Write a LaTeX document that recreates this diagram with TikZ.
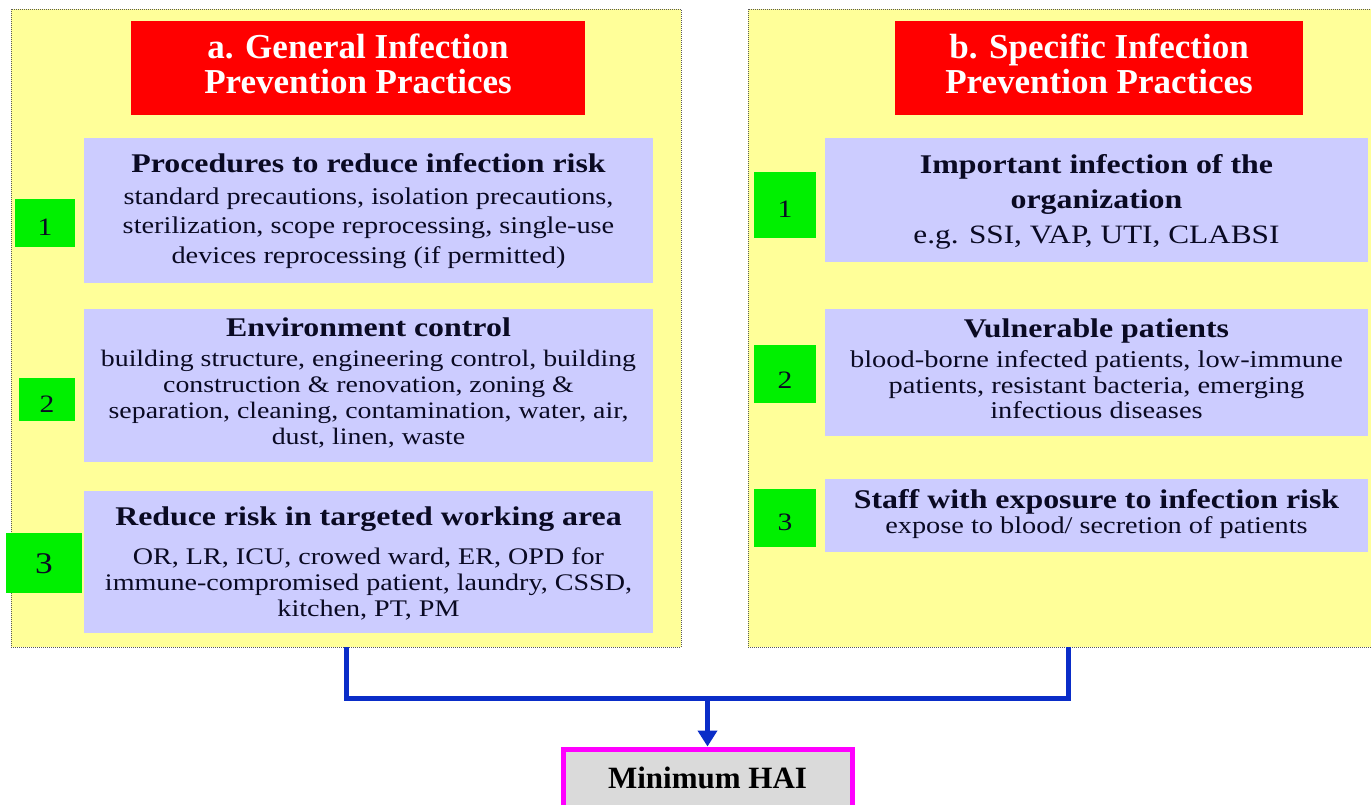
\documentclass[tikz,border=0pt]{standalone}
\usepackage{fontspec}
\setmainfont{Liberation Serif}
\newfontfamily\widefont[FakeStretch=1.18]{Liberation Serif}
\usetikzlibrary{fit,arrows.meta}

\definecolor{panelyellow}{HTML}{FFFF99}
\definecolor{boxblue}{HTML}{CCCCFF}
\definecolor{numgreen}{HTML}{00F000}
\definecolor{titlered}{HTML}{FF0000}
\definecolor{haigray}{HTML}{DADADA}
\definecolor{haiborder}{HTML}{FF00FF}
\definecolor{linkblue}{HTML}{0A2DC8}
\definecolor{inkdark}{HTML}{0A0A23}

\tikzset{
  panel/.style={fill=panelyellow, draw=gray!70!black, line width=0.8pt,
    dash pattern=on 1pt off 1pt, inner sep=0pt},
  redbox/.style={fill=titlered, inner sep=0pt},
  bluebox/.style={fill=boxblue, inner sep=0pt},
  numbox/.style={fill=numgreen, inner sep=0pt},
  haibox/.style={fill=haigray, draw=haiborder, line width=5pt, inner sep=0pt},
  % text lines, each placed on its own baseline
  redtext/.style={anchor=base, inner sep=0pt, text=white,
    font=\fontsize{35}{35}\selectfont\bfseries},
  headtext/.style={anchor=base, inner sep=0pt, text=inkdark,
    font=\widefont\fontsize{27}{27}\selectfont\bfseries},
  bodytext/.style={anchor=base, inner sep=0pt, text=inkdark,
    font=\widefont\fontsize{#1}{#1}\selectfont},
  bodytext/.default=24,
  numtext/.style={anchor=base, inner sep=0pt, text=inkdark,
    font=\widefont\fontsize{#1}{#1}\selectfont},
  numtext/.default=25,
  haitext/.style={anchor=base, inner sep=0pt, text=black,
    font=\fontsize{31}{31}\selectfont\bfseries},
  conn/.style={draw=linkblue, line width=5pt},
}

\begin{document}
\begin{tikzpicture}[x=1pt, y=-1pt]
  \useasboundingbox (0,0) rectangle (1371,804);
  \clip (0,0) rectangle (1371,804);
  \fill[white] (0,0) rectangle (1371,804);

  % two practice panels
  \node[panel, fit={(11,9) (681,647)}] (pa) {};
  \node[panel, fit={(748,9) (1388,647)}] (pb) {};

  % panel headings
  \node[redbox, fit={(131,21) (585,115)}] (ta) {};
  \node[redtext] (ta1) at (358,58) {a. General Infection};
  \node[redtext] (ta2) at (358,93) {Prevention Practices};
  \node[redbox, fit={(895,21) (1303,115)}] (tb) {};
  \node[redtext] (tb1) at (1099,58) {b. Specific Infection};
  \node[redtext] (tb2) at (1099,93) {Prevention Practices};

  % general practices
  \node[bluebox, fit={(84,138) (653,283)}] (a1) {};
  \node[headtext] (a1h) at (368.5,172) {Procedures to reduce infection risk};
  \node[bodytext=24] (a1b1) at (368.5,204) {standard precautions, isolation precautions,};
  \node[bodytext=24] (a1b2) at (368.5,233.5) {sterilization, scope reprocessing, single-use};
  \node[bodytext=24] (a1b3) at (368.5,263) {devices reprocessing (if permitted)};

  \node[bluebox, fit={(84,309) (653,462)}] (a2) {};
  \node[headtext] (a2h) at (368.5,336) {Environment control};
  \node[bodytext=23.6] (a2b1) at (368.5,366) {building structure, engineering control, building};
  \node[bodytext=23.6] (a2b2) at (368.5,392) {construction \& renovation, zoning \&};
  \node[bodytext=23.6] (a2b3) at (368.5,418) {separation, cleaning, contamination, water, air,};
  \node[bodytext=23.6] (a2b4) at (368.5,444) {dust, linen, waste};

  \node[bluebox, fit={(84,491) (653,633)}] (a3) {};
  \node[headtext] (a3h) at (368.5,525) {Reduce risk in targeted working area};
  \node[bodytext=23.8] (a3b1) at (368.5,564) {OR, LR, ICU, crowed ward, ER, OPD for};
  \node[bodytext=23.8] (a3b2) at (368.5,590) {immune-compromised patient, laundry, CSSD,};
  \node[bodytext=23.8] (a3b3) at (368.5,616) {kitchen, PT, PM};

  \node[numbox, fit={(15,199) (75,247)}] (na1) {};
  \node[numtext] (na1t) at (na1.center |- 0,235) {1};
  \node[numbox, fit={(19,378) (75,421)}] (na2) {};
  \node[numtext] (na2t) at (na2.center |- 0,412) {2};
  \node[numbox, fit={(6,533) (82,593)}] (na3) {};
  \node[numtext=30] (na3t) at (na3.center |- 0,573) {3};

  % specific practices
  \node[bluebox, fit={(825,138) (1368,262)}] (b1) {};
  \node[headtext] (b1h1) at (1096.5,173) {Important infection of the};
  \node[headtext] (b1h2) at (1096.5,208) {organization};
  \node[bodytext=26.5] (b1b1) at (1096.5,243) {e.g. SSI, VAP, UTI, CLABSI};

  \node[bluebox, fit={(825,309) (1368,436)}] (b2) {};
  \node[headtext] (b2h) at (1096.5,337) {Vulnerable patients};
  \node[bodytext=24.1] (b2b1) at (1096.5,367) {blood-borne infected patients, low-immune};
  \node[bodytext=24.1] (b2b2) at (1096.5,393) {patients, resistant bacteria, emerging};
  \node[bodytext=24.1] (b2b3) at (1096.5,418) {infectious diseases};

  \node[bluebox, fit={(825,479) (1368,552)}] (b3) {};
  \node[headtext] (b3h) at (1096.5,508) {Staff with exposure to infection risk};
  \node[bodytext=24] (b3b1) at (1096.5,533) {expose to blood/ secretion of patients};

  \node[numbox, fit={(754,172) (816,238)}] (nb1) {};
  \node[numtext] (nb1t) at (nb1.center |- 0,217) {1};
  \node[numbox, fit={(754,345) (816,403)}] (nb2) {};
  \node[numtext] (nb2t) at (nb2.center |- 0,388) {2};
  \node[numbox, fit={(754,489) (816,547)}] (nb3) {};
  \node[numtext] (nb3t) at (nb3.center |- 0,530) {3};

  % outcome
  \node[haibox, fit={(563,749) (852,815)}] (hai) {};
  \node[haitext] (hait) at (707.5,788) {Minimum HAI};

  % connectors joining both panels into the outcome
  \coordinate (hub) at (707.5,698);
  \draw[conn] (pa.south) |- (hub) -| (pb.south);
  \draw[conn, -{Triangle[width=19pt,length=16pt]}] (hub) -- (hai.north);
\end{tikzpicture}
\end{document}
